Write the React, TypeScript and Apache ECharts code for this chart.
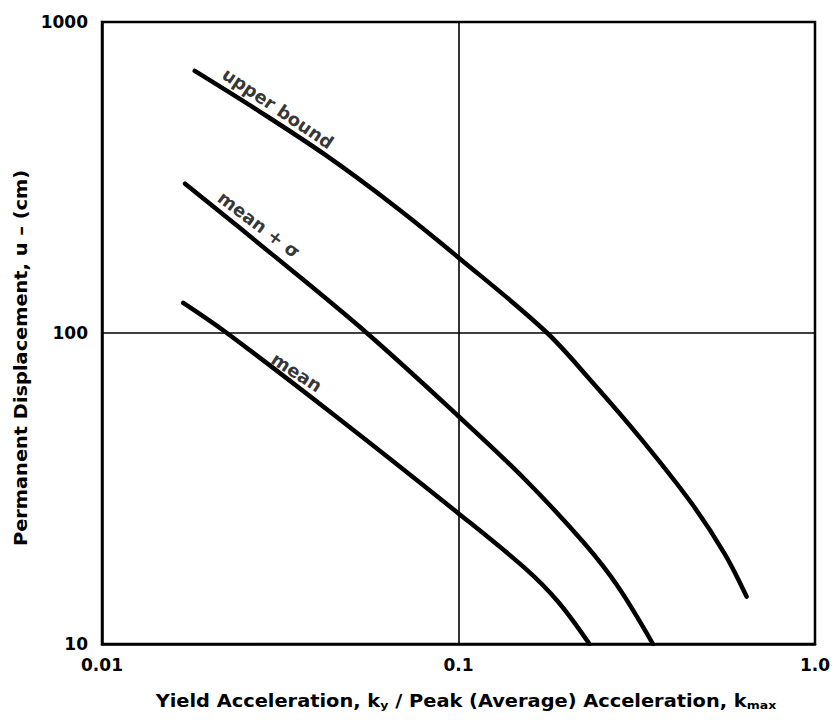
import React, { useEffect, useRef } from "react";
import * as echarts from "echarts";

// Upper bound curve
const upperX = [0.0182, 0.0277, 0.0427, 0.0656, 0.0999, 0.175, 0.236, 0.326, 0.45, 0.558, 0.643];
const upperY = [696, 515, 371, 258, 175, 101.5, 70, 45.5, 28.4, 19.5, 14.2];
// mean + sigma curve
const sigmaX = [0.0171, 0.0302, 0.0553, 0.1, 0.153, 0.226, 0.28, 0.351];
const sigmaY = [302, 178, 100, 54, 34.0, 21.0, 15.3, 10];
// mean curve
const meanX = [0.0169, 0.0224, 0.0446, 0.1, 0.153, 0.19, 0.233];
const meanY = [125, 100, 54.7, 26.3, 17.6, 13.7, 10];

const xTickLabels = ["0.01", "0.1", "1.0"];
const yTickLabels = ["10", "100", "1000"];

// curve labels: text, x, y (data coords), rotation (deg)
const labelTexts = ["upper bound", "mean + σ", "mean"];
const labelX = [0.0312, 0.0276, 0.0352];
const labelY = [528, 223, 74.8];
const labelRot = [-34, -37, -33];

const xTitle = "{t|Yield Acceleration, k}{s|y}{t| / Peak (Average) Acceleration, k}{s|max}";
const yTitle = "Permanent Displacement, u – (cm)";

const FONT = "DejaVu Sans";

export default function App() {
  const ref = useRef<HTMLDivElement>(null);
  useEffect(() => {
    document.body.style.margin = "0";
    const chart = echarts.init(ref.current!, undefined, { renderer: "svg" });
    const zip = (xs: number[], ys: number[]) => xs.map((x, i) => [x, ys[i]]);
    const lineSeries = (name: string, data: number[][]) => ({
      name,
      type: "line",
      data,
      symbol: "none",
      smooth: 0.35,
      clip: true,
      lineStyle: { color: "#000", width: 4.5, cap: "round", join: "round" },
      silent: true,
    });
    const option: any = {
      animation: false,
      backgroundColor: "#fff",
      textStyle: { fontFamily: FONT },
      grid: {
        left: 102,
        top: 22,
        right: 21,
        bottom: 76,
        show: true,
        borderColor: "#000",
        borderWidth: 2.5,
        backgroundColor: "transparent",
      },
      xAxis: {
        type: "log",
        logBase: 10,
        min: 0.01,
        max: 1,
        axisLine: { show: true, lineStyle: { color: "#000", width: 2.5 } },
        axisTick: { show: false },
        splitLine: { show: true, lineStyle: { color: "#000", width: 1.6 } },
        axisLabel: {
          color: "#000",
          fontSize: 17,
          fontWeight: "bold",
          fontFamily: FONT,
          margin: 12,
          formatter: (v: number) => xTickLabels[Math.round(Math.log10(v)) + 2] ?? "",
        },
      },
      yAxis: {
        type: "log",
        logBase: 10,
        min: 10,
        max: 1000,
        axisLine: { show: true, lineStyle: { color: "#000", width: 2.5 } },
        axisTick: { show: false },
        splitLine: { show: true, lineStyle: { color: "#000", width: 1.6 } },
        axisLabel: {
          color: "#000",
          fontSize: 17,
          fontWeight: "bold",
          fontFamily: FONT,
          margin: 14,
          formatter: (v: number) => yTickLabels[Math.round(Math.log10(v)) - 1] ?? "",
        },
      },
      graphic: [
        {
          type: "text",
          x: 466,
          y: 701,
          scaleX: 1.14,
          silent: true,
          style: {
            text: xTitle,
            align: "center",
            verticalAlign: "middle",
            rich: {
              t: { fontSize: 17, fontWeight: "bold", fontFamily: FONT, fill: "#000", lineHeight: 20 },
              s: { fontSize: 11, fontWeight: "bold", fontFamily: FONT, fill: "#000", padding: [9, 0, 0, 0] },
            },
          },
        },
        {
          type: "text",
          x: 21,
          y: 358,
          rotation: Math.PI / 2,
          scaleX: 1.14,
          silent: true,
          style: {
            text: yTitle,
            align: "center",
            verticalAlign: "middle",
            fontSize: 17,
            fontWeight: "bold",
            fontFamily: FONT,
            fill: "#000",
          },
        },
      ],
      series: [
        lineSeries("upper bound", zip(upperX, upperY)),
        lineSeries("mean + σ", zip(sigmaX, sigmaY)),
        lineSeries("mean", zip(meanX, meanY)),
        {
          type: "scatter",
          symbolSize: 0,
          silent: true,
          data: labelTexts.map((t, i) => ({
            name: t,
            value: [labelX[i], labelY[i]],
            label: { rotate: labelRot[i] },
          })),
          label: {
            show: true,
            position: "inside",
            formatter: "{b}",
            color: "#000",
            textBorderWidth: 0,
            fontSize: 18,
            fontWeight: "bold",
            fontFamily: FONT,
          },
        },
      ],
    };
    chart.setOption(option);
    return () => chart.dispose();
  }, []);
  return <div ref={ref} style={{ width: 836, height: 720, background: "#fff" }} />;
}
